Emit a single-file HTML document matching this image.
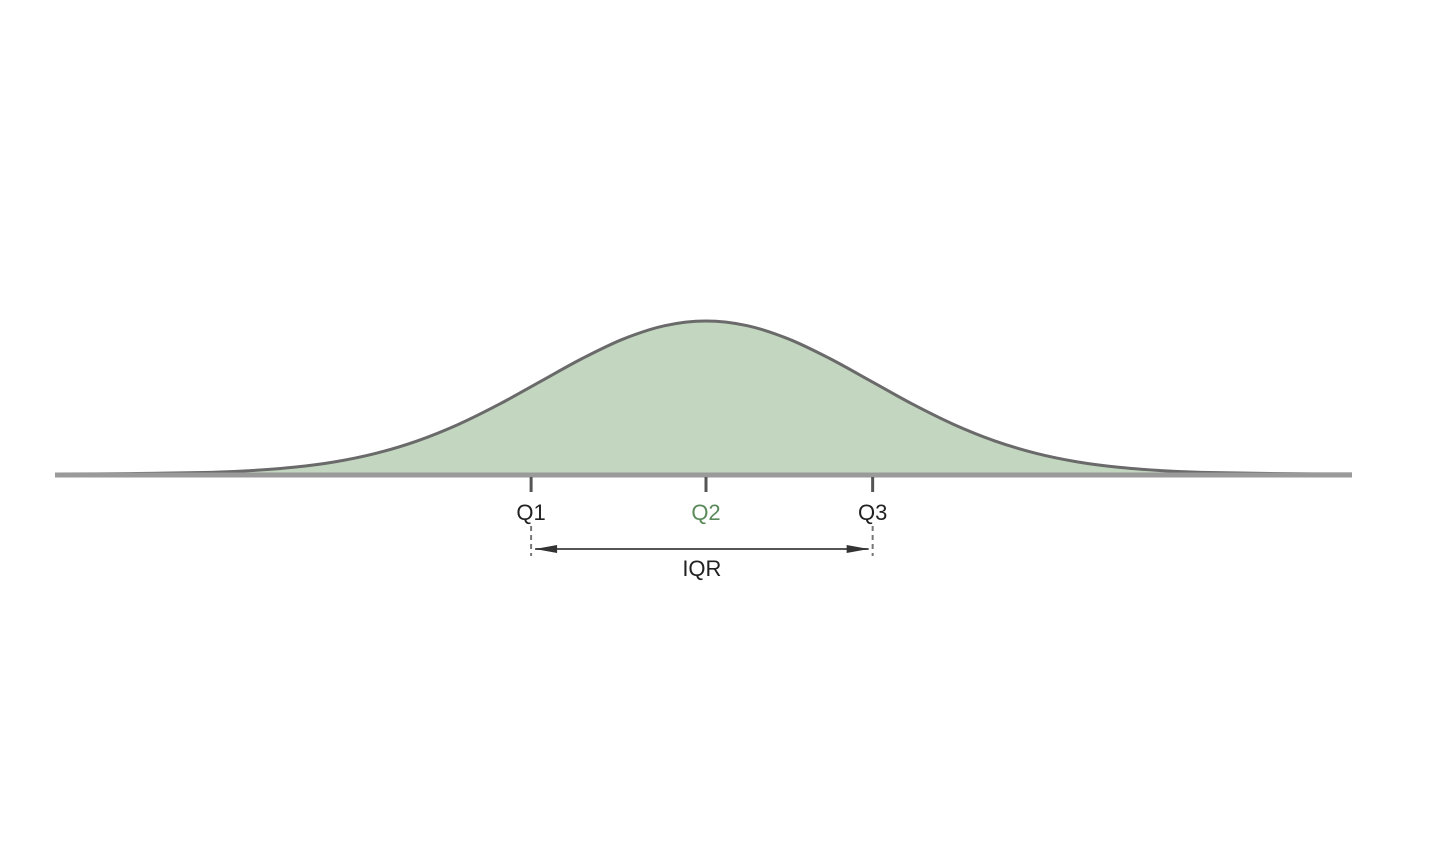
<!DOCTYPE html>
<html><head><meta charset="utf-8"><style>
html,body{margin:0;padding:0;background:#fff;}
svg{display:block;}
text{font-family:"Liberation Sans",sans-serif;}
</style></head><body>
<svg id="chart" width="1440" height="864" viewBox="0 0 1440 864" xmlns="http://www.w3.org/2000/svg">
<defs><clipPath id="clip"><rect x="55" y="0" width="1297" height="864"/></clipPath></defs>
<g id="plot" clip-path="url(#clip)"></g>
<g id="labels"></g>
</svg>
<script>
// z-scores and standard normal density values (sampled)
const zValues = [-4,-3.5,-3,-2.75,-2.5,-2.25,-2,-1.75,-1.5,-1.25,-1,-0.75,-0.5,-0.25,0,0.25,0.5,0.75,1,1.25,1.5,1.75,2,2.25,2.5,2.75,3,3.5,4];
const density = [0.0001,0.0009,0.0044,0.0091,0.0175,0.0317,0.054,0.0863,0.1295,0.1826,0.242,0.3011,0.3521,0.3867,0.3989,0.3867,0.3521,0.3011,0.242,0.1826,0.1295,0.0863,0.054,0.0317,0.0175,0.0091,0.0044,0.0009,0.0001];
const quartileLabels = ["Q1","Q2","Q3"];
const quartileZ = [-1.06,0,1.01];
const rangeLabel = "IQR";

const NS="http://www.w3.org/2000/svg";
const plot=document.getElementById('plot');
const labels=document.getElementById('labels');
const cx=706, sigma=165, base=474, peakY=321;
const xScale=z=>cx+z*sigma;
const yScale=d=>base-(d/0.3989)*(base-peakY);
function mk(tag,attrs,parent){const e=document.createElementNS(NS,tag);for(const k in attrs)e.setAttribute(k,attrs[k]);(parent||plot).appendChild(e);return e;}

let pts=zValues.map((z,i)=>[xScale(z),yScale(density[i])]);
function smooth(p){let d='';for(let i=0;i<p.length-1;i++){const p0=p[i-1]||p[i],p1=p[i],p2=p[i+1],p3=p[i+2]||p2;
d+=` C${p1[0]+(p2[0]-p0[0])/6},${p1[1]+(p2[1]-p0[1])/6} ${p2[0]-(p3[0]-p1[0])/6},${p2[1]-(p3[1]-p1[1])/6} ${p2[0]},${p2[1]}`;}return d;}
const cd=smooth(pts);
const first=pts[0], last=pts[pts.length-1];
const area=mk('path',{d:`M${first[0]},${base} L${first[0]},${first[1]}`+cd+` L${last[0]},${base} Z`,fill:'#c3d7c0',stroke:'none'});


const line=mk('path',{d:`M${first[0]},${first[1]}`+cd,fill:'none',stroke:'#6a6a6a','stroke-width':3});



// baseline
const bl=mk('line',{x1:55,x2:1352,y1:base+1,y2:base+1,stroke:'#9a9a9a','stroke-width':5},labels);



quartileZ.forEach((z,i)=>{
  const x=xScale(z);
  const t=mk('line',{x1:x,x2:x,y1:base+3,y2:base+18,stroke:'#555','stroke-width':3},labels);
  
  
  const lb=mk('text',{x:x,y:base+46,'text-anchor':'middle','font-size':22,fill:i===1?'#5a8a5a':'#222'},labels);
  lb.textContent=quartileLabels[i];
  
  
});
const xa=xScale(quartileZ[0]), xb=xScale(quartileZ[2]);
[xa,xb].forEach((x,i)=>{const v=mk('line',{x1:x,x2:x,y1:base+52,y2:base+82,stroke:'#777','stroke-width':2,'stroke-dasharray':'5 4'},labels);

});
const ar=mk('line',{x1:xa+4,x2:xb-4,y1:base+75,y2:base+75,stroke:'#555','stroke-width':2},labels);


const ah1=mk('path',{d:`M${xa+4},${base+75} l22,-4 v8 z`,fill:'#333'},labels);


const ah2=mk('path',{d:`M${xb-4},${base+75} l-22,-4 v8 z`,fill:'#333'},labels);


const il=mk('text',{x:(xa+xb)/2,y:base+102,'text-anchor':'middle','font-size':22,fill:'#222'},labels);
il.textContent=rangeLabel;


</script>
</body></html>
